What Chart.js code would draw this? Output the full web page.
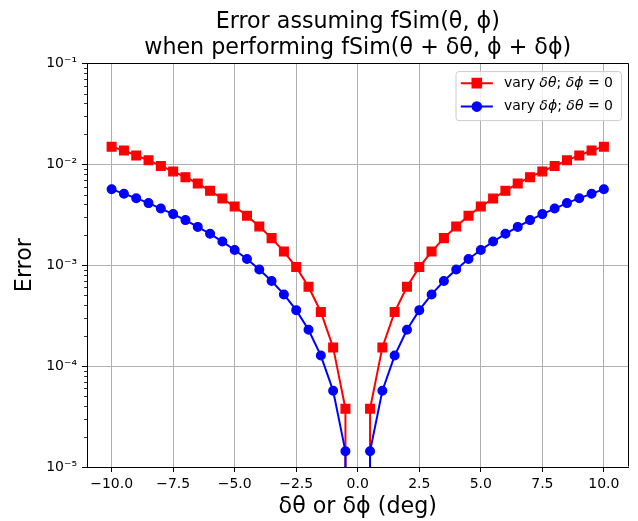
<!DOCTYPE html>
<html>
<head>
<meta charset="utf-8">
<script src="https://cdn.jsdelivr.net/npm/chart.js@4.4.0/dist/chart.umd.min.js"></script>
<style>
  html, body { margin: 0; padding: 0; background: #ffffff; }
  #wrap { width: 638px; height: 521px; position: relative; }
</style>
</head>
<body>
<div id="wrap"><canvas id="c"></canvas></div>
<script>
// ---------------- data ----------------
const xValues = [-10, -9.5, -9, -8.5, -8, -7.5, -7, -6.5, -6, -5.5, -5, -4.5, -4, -3.5, -3, -2.5, -2, -1.5, -1, -0.5,
                 0,
                 0.5, 1, 1.5, 2, 2.5, 3, 3.5, 4, 4.5, 5, 5.5, 6, 6.5, 7, 7.5, 8, 8.5, 9, 9.5, 10];

const redValues = [0.0149, 0.01365, 0.0122, 0.0109, 0.0096, 0.00845, 0.00743, 0.00643, 0.00544, 0.00457,
                   0.0038, 0.00308, 0.00241, 0.00185, 0.00136, 0.000955, 0.00061, 0.000343, 0.000153, 0.0000378,
                   0,
                   0.0000378, 0.000153, 0.000343, 0.00061, 0.000955, 0.00136, 0.00185, 0.00241, 0.00308, 0.0038,
                   0.00457, 0.00544, 0.00643, 0.00743, 0.00845, 0.0096, 0.0109, 0.0122, 0.01365, 0.0149];

const blueValues = [0.00565, 0.00508, 0.0046, 0.00411, 0.00363, 0.0032, 0.00279, 0.00239, 0.00204, 0.00171,
                    0.00141, 0.00115, 0.000905, 0.000695, 0.000512, 0.000358, 0.000229, 0.000127, 0.0000569, 0.0000143,
                    0,
                    0.0000143, 0.0000569, 0.000127, 0.000229, 0.000358, 0.000512, 0.000695, 0.000905, 0.00115, 0.00141,
                    0.00171, 0.00204, 0.00239, 0.00279, 0.0032, 0.00363, 0.00411, 0.0046, 0.00508, 0.00565];

const xTicks = [-10, -7.5, -5, -2.5, 0, 2.5, 5, 7.5, 10];
const yTickValues = [1e-5, 1e-4, 1e-3, 1e-2, 1e-1];
const yTickLabels = ['10\u207B\u2075', '10\u207B\u2074', '10\u207B\u00B3', '10\u207B\u00B2', '10\u207B\u00B9'];

const seriesLabels = ['vary \u03B4\u03B8; \u03B4\u03D5 = 0', 'vary \u03B4\u03D5; \u03B4\u03B8 = 0'];
const titleLines = ['Error assuming fSim(\u03B8, \u03D5)', 'when performing fSim(\u03B8 + \u03B4\u03B8, \u03D5 + \u03B4\u03D5)'];
const xTitle = '\u03B4\u03B8 or \u03B4\u03D5 (deg)';
const yTitle = 'Error';

// ---------------- styling ----------------
const FONT = "'DejaVu Sans', sans-serif";
const RED = '#ff0000';
const BLUE = '#0000ff';
const GRID = '#b0b0b0';
// matplotlib clips non-positive values on a log axis to a tiny positive number
const LOG_FLOOR = 1e-300;
const toPoints = (ys) => xValues.map((x, i) => ({ x: x, y: ys[i] > 0 ? ys[i] : LOG_FLOOR }));

const fmtX = (v) => Number(v).toFixed(1).replace('-', '\u2212');

const markerStyles = [
  { pointStyle: 'rect', radius: 6.1, borderWidth: 1.4, color: RED },
  { pointStyle: 'circle', radius: 4.3, borderWidth: 1.4, color: BLUE }
];

const GREEK = /([\u03B4\u03B8\u03D5]+)/;
function richParts(text) { return text.split(GREEK).filter(p => p.length); }
function drawRich(ctx, text, x, y, size) {
  let cx = x;
  for (const p of richParts(text)) {
    const italic = /[\u03B4\u03B8\u03D5]/.test(p);
    ctx.font = (italic ? 'italic ' : '') + size + 'px ' + FONT;
    ctx.fillText(p, cx, y);
    cx += ctx.measureText(p).width;
  }
  return cx - x;
}
function measureRich(ctx, text, size) {
  let w = 0;
  for (const p of richParts(text)) {
    const italic = /[\u03B4\u03B8\u03D5]/.test(p);
    ctx.font = (italic ? 'italic ' : '') + size + 'px ' + FONT;
    w += ctx.measureText(p).width;
  }
  return w;
}

const decorPlugin = {
  id: 'decor',
  afterDatasetsDraw(chart) {
    const ctx = chart.ctx;
    const ca = chart.chartArea;
    const ys = chart.scales.y;
    ctx.save();
    // top and right spines
    ctx.strokeStyle = '#000';
    ctx.lineWidth = 1;
    ctx.beginPath();
    const L = Math.round(ca.left) + 0.5, R = Math.round(ca.right) - 0.5, T = Math.round(ca.top) + 0.5;
    const B = Math.round(ca.bottom) - 0.5;
    ctx.moveTo(L, T); ctx.lineTo(R, T); ctx.lineTo(R, B);
    ctx.stroke();

    // minor log ticks on the y axis
    ctx.lineWidth = 0.8;
    ctx.beginPath();
    for (let d = 0; d < yTickValues.length - 1; d++) {
      for (let k = 2; k <= 9; k++) {
        const py = Math.round(ys.getPixelForValue(yTickValues[d] * k)) + 0.5;
        ctx.moveTo(ca.left - 3, py);
        ctx.lineTo(ca.left, py);
      }
    }
    ctx.stroke();

    // legend (matplotlib style, inside the axes, upper right)
    const size = 14;
    let maxW = 0;
    for (const s of seriesLabels) maxW = Math.max(maxW, measureRich(ctx, s, size));
    const boxR = ca.right - 7;
    const boxT = ca.top + 8.4;
    const boxW = 49 + maxW + 7.5;
    const boxH = 49;
    const boxL = boxR - boxW;
    const r = 3;
    ctx.beginPath();
    ctx.moveTo(boxL + r, boxT);
    ctx.lineTo(boxR - r, boxT);
    ctx.arcTo(boxR, boxT, boxR, boxT + r, r);
    ctx.lineTo(boxR, boxT + boxH - r);
    ctx.arcTo(boxR, boxT + boxH, boxR - r, boxT + boxH, r);
    ctx.lineTo(boxL + r, boxT + boxH);
    ctx.arcTo(boxL, boxT + boxH, boxL, boxT + boxH - r, r);
    ctx.lineTo(boxL, boxT + r);
    ctx.arcTo(boxL, boxT, boxL + r, boxT, r);
    ctx.closePath();
    ctx.fillStyle = 'rgba(255,255,255,0.8)';
    ctx.fill();
    ctx.strokeStyle = '#cccccc';
    ctx.lineWidth = 1;
    ctx.stroke();

    const rowY = [boxT + 11.6, boxT + 35];
    chart.data.datasets.forEach((ds, i) => {
      const y = rowY[i];
      const m = markerStyles[i];
      ctx.strokeStyle = m.color;
      ctx.fillStyle = m.color;
      ctx.lineWidth = 2;
      ctx.beginPath();
      ctx.moveTo(boxL + 4.8, y);
      ctx.lineTo(boxL + 36.8, y);
      ctx.stroke();
      Chart.helpers.drawPoint(ctx, { pointStyle: m.pointStyle, radius: m.radius, borderWidth: m.borderWidth, rotation: 0 }, boxL + 20.8, y);
      ctx.fillStyle = '#000';
      ctx.textBaseline = 'middle';
      ctx.textAlign = 'left';
      drawRich(ctx, seriesLabels[i], boxL + 48, y, size);
    });
    ctx.restore();
  }
};

const axisGrid = { color: GRID, lineWidth: 1, tickLength: 5, tickColor: '#000', tickWidth: 1 };

new Chart(document.getElementById('c'), {
  type: 'line',
  data: {
    datasets: [
      {
        label: seriesLabels[0],
        data: toPoints(redValues),
        borderColor: RED, backgroundColor: RED,
        pointBackgroundColor: RED, pointBorderColor: RED,
        borderWidth: 2,
        pointStyle: markerStyles[0].pointStyle,
        pointRadius: markerStyles[0].radius,
        pointHoverRadius: markerStyles[0].radius,
        pointBorderWidth: markerStyles[0].borderWidth,
        tension: 0, fill: false, order: 2
      },
      {
        label: seriesLabels[1],
        data: toPoints(blueValues),
        borderColor: BLUE, backgroundColor: BLUE,
        pointBackgroundColor: BLUE, pointBorderColor: BLUE,
        borderWidth: 2,
        pointStyle: markerStyles[1].pointStyle,
        pointRadius: markerStyles[1].radius,
        pointHoverRadius: markerStyles[1].radius,
        pointBorderWidth: markerStyles[1].borderWidth,
        tension: 0, fill: false, order: 1
      }
    ]
  },
  options: {
    responsive: true,
    maintainAspectRatio: false,
    animation: false,
    events: [],
    layout: { padding: { left: 0, right: 9.5, top: 0, bottom: 0 } },
    plugins: {
      legend: { display: false },
      tooltip: { enabled: false },
      title: {
        display: true,
        fullSize: false,
        text: titleLines,
        color: '#000',
        font: { family: FONT, size: 22.2, weight: 'normal', lineHeight: 1.2 },
        padding: { top: 8.45, bottom: 1.45 }
      }
    },
    scales: {
      x: {
        type: 'linear',
        min: -11, max: 11,
        afterBuildTicks: (s) => { s.ticks = xTicks.map(v => ({ value: v })); },
        afterFit: (s) => { s.height = 54; },
        ticks: { autoSkip: false, maxRotation: 0, padding: 4, color: '#000',
                 font: { family: FONT, size: 14 }, callback: (v) => fmtX(v) },
        grid: axisGrid,
        border: { color: '#000', width: 1 },
        title: { display: true, text: xTitle, color: '#000',
                 font: { family: FONT, size: 22.2 }, padding: { top: 0, bottom: 0 } }
      },
      y: {
        type: 'logarithmic',
        min: 1e-5, max: 1e-1,
        afterBuildTicks: (s) => { s.ticks = yTickValues.map(v => ({ value: v })); },
        afterFit: (s) => { s.width = 87; },
        ticks: { autoSkip: false, padding: 5, color: '#000',
                 font: { family: FONT, size: 14 },
                 callback: (v) => {
                   const i = yTickValues.findIndex(t => Math.abs(Math.log10(t) - Math.log10(v)) < 1e-6);
                   return i >= 0 ? yTickLabels[i] : '';
                 } },
        grid: axisGrid,
        border: { color: '#000', width: 1 },
        title: { display: true, text: yTitle, color: '#000',
                 font: { family: FONT, size: 22.2 }, padding: { top: 12.3, bottom: 0 } }
      }
    }
  },
  plugins: [decorPlugin]
});
</script>
</body>
</html>
